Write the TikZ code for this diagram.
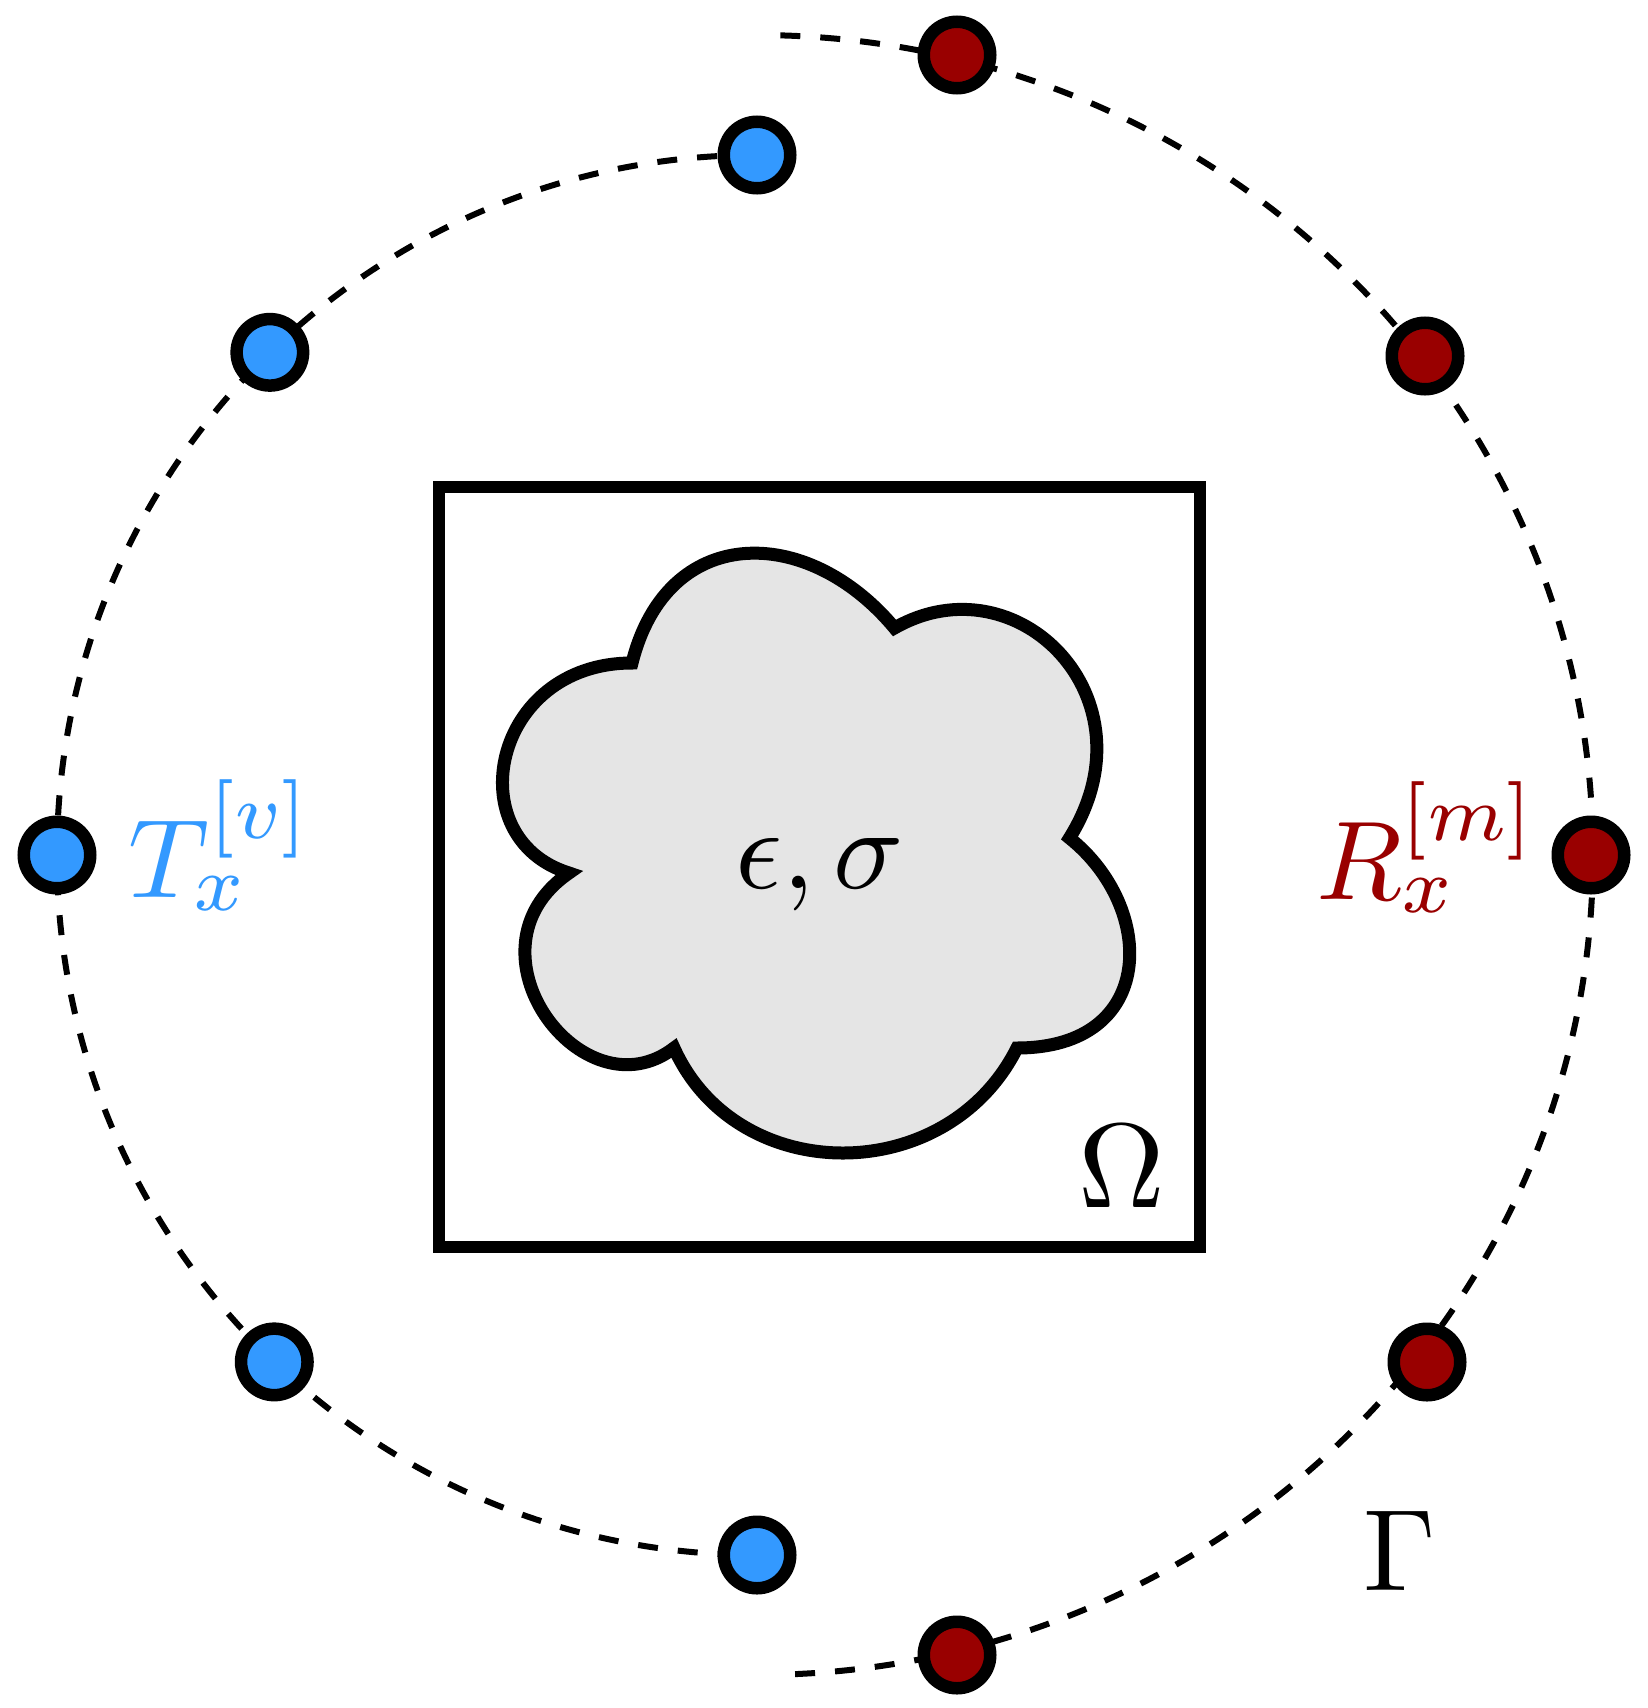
\documentclass[tikz,border=0pt]{standalone}
\usetikzlibrary{calc}
\definecolor{tblue}{RGB}{51,153,255}
\definecolor{rred}{RGB}{153,0,0}
\definecolor{cloudgray}{RGB}{229,229,229}
\begin{document}
\begin{tikzpicture}[x=0.5pt,y=0.5pt,
  dashline/.style={line width=3pt, dash pattern=on 10pt off 10pt},
  dotnode/.style={circle, draw=black, line width=6.25pt, minimum size=33.25pt, inner sep=0pt},
  bdot/.style={dotnode, fill=tblue},
  rdot/.style={dotnode, fill=rred},
  lbl/.style={inner sep=0pt, outer sep=0pt},
  cloudline/.style={draw=black, fill=cloudgray, line width=6.5pt, line join=miter, miter limit=4}]
\useasboundingbox (0,0) rectangle (1648,-1708);
\coordinate (O) at (757,-855);
% dashed arcs
\draw[dashline] ([shift={(90:700)}]O) arc[start angle=90, end angle=270, radius=700];
\draw[dashline] ([shift={(88.4:836 and 820)}]O) arc[start angle=88.4, end angle=-88.4, x radius=836, y radius=820];
% domain box
\draw[line width=6pt] (439,-487) rectangle (1200,-1247);
% cloud (six lobes)
\begin{scope}[shift={(457,-488)}, xscale=700, yscale=-700]
\path[cloudline] (0.25,0.25)
  .. controls (0.05,0.25) and (0,0.5) .. (0.16,0.55)
  .. controls (0,0.66) and (0.18,0.9) .. (0.31,0.8)
  .. controls (0.4,1) and (0.7,1) .. (0.8,0.8)
  .. controls (1,0.8) and (1,0.6) .. (0.875,0.5)
  .. controls (1,0.3) and (0.8,0.1) .. (0.625,0.2)
  .. controls (0.5,0.05) and (0.3,0.05) .. (0.25,0.25) -- cycle;
\end{scope}
% transmitters
\node[bdot] (t1) at ([shift={(90:700)}]O) {};
\node[bdot] (t2) at ([shift={(134.1:700)}]O) {};
\node[bdot] (t3) at ([shift={(180:700)}]O) {};
\node[bdot] (t4) at ([shift={(226.4:700)}]O) {};
\node[bdot] (t5) at ([shift={(270:700)}]O) {};
% receivers
\node[rdot] (r1) at (957,-55) {};
\node[rdot] (r2) at (1425,-356) {};
\node[rdot] (r3) at (1591,-855) {};
\node[rdot] (r4) at (1427,-1362) {};
\node[rdot] (r5) at (957,-1655) {};
% labels
\node[lbl, anchor=base west, text=tblue, scale=5.6] (tlab) at (128,-897) {$T_x^{[v]}$};
\node[lbl, anchor=base west, text=rred, scale=5.6] (rlab) at (1316,-899) {$R_x^{[m]}$};
\node[lbl, anchor=base, scale=5.8] (mat) at (820,-888) {$\epsilon,\sigma$};
\node[lbl, anchor=base, scale=6.0] (om) at (1122,-1207) {$\Omega$};
\node[lbl, anchor=base, scale=5.8] (ga) at (1400,-1590) {$\Gamma$};
\end{tikzpicture}
\end{document}
